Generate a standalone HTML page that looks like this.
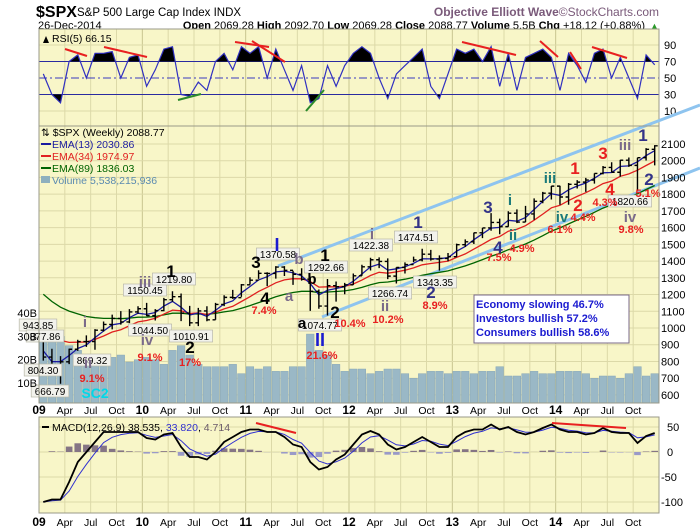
<!DOCTYPE html>
<html><head><meta charset="utf-8"><style>
html,body{margin:0;padding:0;background:#fff;}
svg{display:block;font-family:"Liberation Sans",sans-serif;}
</style></head><body>
<svg id="c" width="700" height="530" viewBox="0 0 700 530">
<g id="hdr">
<text x="36" y="17" font-size="16" font-weight="bold" fill="#000">$SPX</text>
<text x="77" y="16" font-size="11.5" fill="#000">S&amp;P 500 Large Cap Index INDX</text>
<text x="659" y="16" font-size="12" font-weight="bold" fill="#7a5a7a" text-anchor="end">Objective Elliott Wave<tspan font-weight="normal">©StockCharts.com</tspan></text>
<text x="38" y="29" font-size="11" fill="#000">26-Dec-2014</text>
<text x="645" y="29" font-size="11" fill="#000" text-anchor="end"><tspan font-weight="bold">Open</tspan> 2069.28 <tspan font-weight="bold">High</tspan> 2092.70 <tspan font-weight="bold">Low</tspan> 2069.28 <tspan font-weight="bold">Close</tspan> 2088.77 <tspan font-weight="bold">Volume</tspan> 5.5B <tspan font-weight="bold">Chg</tspan> +18.12 (+0.88%)</text>
<text x="650" y="29" font-size="9" fill="#2a9a2a">▲</text>
</g>
<g id="panels"></g>
</svg>
<script>
// ---------- data ----------
const years = ['09','10','11','12','13','14'];
const closes = [826,735,798,873,919,919,987,1021,1057,1036,1096,1115,
1074,1104,1169,1187,1089,1031,1102,1049,1141,1183,1181,1258,
1286,1327,1326,1364,1345,1321,1292,1219,1131,1253,1247,1258,
1312,1366,1408,1398,1310,1362,1379,1407,1441,1412,1416,1426,
1498,1515,1569,1598,1631,1606,1686,1633,1682,1757,1806,1848,
1783,1859,1872,1884,1924,1960,1931,2003,1972,2018,2068,2089];
const highs = [943,876,832,877,930,956,993,1039,1080,1101,1113,1130,
1150,1113,1180,1220,1206,1132,1120,1130,1150,1196,1228,1263,
1303,1345,1333,1370,1370,1342,1357,1307,1230,1293,1278,1270,
1326,1378,1420,1422,1416,1363,1392,1427,1474,1467,1434,1448,
1504,1530,1570,1598,1687,1654,1698,1709,1730,1775,1814,1849,
1850,1867,1884,1897,1924,1968,1991,2005,2019,2018,2075,2093];
const lows = [805,735,667,784,863,887,870,979,992,1020,1029,1086,
1071,1045,1100,1157,1041,1011,1011,1040,1049,1131,1174,1186,
1259,1294,1250,1295,1311,1258,1283,1102,1115,1075,1158,1202,
1258,1312,1344,1358,1292,1266,1326,1394,1398,1403,1343,1399,
1426,1485,1502,1537,1581,1560,1605,1627,1633,1646,1746,1768,
1737,1737,1834,1814,1863,1918,1930,1905,1963,1820,2001,1972];
const volumes = [28,32,30,26,24,22,19,20,21,22,19,20,
21,20,18,24,26,22,18,17,17,17,18,14,
17,16,17,15,15,17,17,31,24,22,18,15,
16,16,14,15,16,16,14,12,14,15,15,14,
15,15,14,15,15,17,13,13,14,15,14,14,
15,15,15,14,12,13,13,12,14,17,13,14];
const emaSeeds = [900,1090,1240];
const rsiValues = [55,30,20,70,78,50,80,80,82,50,75,78,
40,60,85,88,30,28,45,35,70,80,60,88,
80,88,50,85,60,35,65,20,25,65,40,65,
80,88,80,50,25,55,65,75,85,40,25,55,
85,80,85,70,88,40,80,35,75,80,85,75,
35,80,65,45,80,85,50,75,50,25,78,66];
const macdValues = [-100,-95,-95,-60,-20,0,20,40,40,40,40,40,
28,25,35,38,10,-10,-10,-15,0,20,30,40,
45,45,40,40,30,15,10,-20,-35,-30,-15,-5,
15,35,42,35,15,5,10,20,30,20,10,10,
30,40,45,45,55,45,50,40,35,40,48,55,
45,40,40,35,38,48,40,38,38,18,32,38];
const priceTicks = [600,700,800,900,1000,1100,1200,1300,1400,1500,1600,1700,1800,1900,2000,2100];
const volTicks = [10,20,30,40];
const rsiTicks = [10,30,50,70,90];
const macdTicks = [50,0,-50,-100];

// ---------- scales ----------
const L=39, R=659, MW=(R-L)/72;
const x = i => L + (i+0.5)*MW;
const xm = m => L + m*MW;
const yP = p => 328 - (p-1000)*0.1673;
const yV = v => 406.3 - v*2.33;
const yR = v => 111 - (v-10)*0.825;
const yM = v => 452 - v*0.5;
const NS='http://www.w3.org/2000/svg';
const root=document.getElementById('panels');
function mk(tag,attrs,parent){const e=document.createElementNS(NS,tag);for(const k in attrs)e.setAttribute(k,attrs[k]);(parent||root).appendChild(e);return e;}
function txt(s,attrs,parent){const e=mk('text',attrs,parent);e.textContent=s;return e;}
function ema(arr,alpha,seed){const o=[];let v=seed;for(const a of arr){v=v+alpha*(a-v);o.push(v);}return o;}
function pts(arr,fy){return arr.map((v,i)=>x(i).toFixed(1)+','+fy(v).toFixed(1)).join(' ');}

const BG='#f8f6c8', GRID='#dcd9a8', BORDER='#9a9a88';
function panel(name,y0,y1){
  const g=mk('g',{});
  
  
  mk('rect',{x:L,y:y0,width:R-L,height:y1-y0,fill:BG},g);
  for(let m=0;m<=72;m+=3){mk('line',{x1:xm(m),x2:xm(m),y1:y0,y2:y1,stroke:m%12==0?'#c8c590':GRID,'stroke-width':1},g);}
  return g;
}
function frame(g,y0,y1){mk('rect',{x:L,y:y0,width:R-L,height:y1-y0,fill:'none',stroke:BORDER,'stroke-width':1},g);}

// ---------- RSI panel ----------
const gR=panel('rsi-panel',29,126);
rsiTicks.forEach(t=>{
  mk('line',{x1:L,x2:R,y1:yR(t),y2:yR(t),stroke:(t==30||t==70)?'#2a2aa0':(t==50?'#3a3ac0':GRID),'stroke-width':1,'stroke-dasharray':t==50?'8,3,2,3':'none'},gR);
  const tl=txt(String(t),{x:664,y:yR(t)+4,'font-size':11,fill:'#000'});
  
  
});
const rp=pts(rsiValues,yR);
mk('clipPath',{id:'cpHi'}).appendChild(mk('rect',{x:L,y:0,width:R-L,height:yR(70)}));
mk('clipPath',{id:'cpLo'}).appendChild(mk('rect',{x:L,y:yR(30),width:R-L,height:50}));
const fhi=mk('polygon',{points:rp+' '+x(71)+','+yR(70)+' '+x(0)+','+yR(70),fill:'#000','clip-path':'url(#cpHi)'},gR);


const flo=mk('polygon',{points:rp+' '+x(71)+','+yR(30)+' '+x(0)+','+yR(30),fill:'#000','clip-path':'url(#cpLo)'},gR);


const rl=mk('polyline',{points:rp,fill:'none',stroke:'#3030c0','stroke-width':1.2},gR);


[[65,49,87,56,'r'],[104,47,147,57,'r'],[235,42,269,47,'r'],[252,41,285,62,'r'],[462,42,516,55,'r'],[540,41,558,57,'r'],[570,52,581,69,'r'],[592,47,627,58,'r'],[178,100,201,94,'g'],[306,111,324,90,'g']].forEach(a=>{
  const d=mk('line',{x1:a[0],y1:a[1],x2:a[2],y2:a[3],stroke:a[4]=='r'?'#e82020':'#2a8a2a','stroke-width':2},gR);
  
  
});
frame(gR,29,126);
const rsiLab=mk('g',{},gR);


mk('polygon',{points:'43,43 46,36 49,43',fill:'#000'},rsiLab);
txt('RSI(5) 66.15',{x:52,y:42,'font-size':10.5,fill:'#000'},rsiLab);

// ---------- main price panel ----------
const gP=panel('price-panel',126,403);
priceTicks.forEach(t=>{
  mk('line',{x1:L,x2:R,y1:yP(t),y2:yP(t),stroke:GRID,'stroke-width':1},gP);
  const tl=txt(String(t),{x:661,y:yP(t)+4,'font-size':11,fill:'#000'});
  
  
});
volTicks.forEach(t=>{
  const tl=txt(t+'B',{x:37,y:yV(t)+4,'font-size':11,fill:'#000','text-anchor':'end'});
  
  
});
const gVol=mk('g',{},gP);


volumes.forEach((v,i)=>{
  const b=mk('rect',{x:x(i)-MW/2+0.5,y:yV(v),width:MW-1,height:Math.max(0,403-yV(v)),fill:'#9ab8c6',stroke:'#86a6b6','stroke-width':0.5},gVol);
  
  
});
// channel lines
[[278,266,700,105],[322,317,700,168]].forEach(a=>{
  const c=mk('line',{x1:a[0],y1:a[1],x2:a[2],y2:a[3],stroke:'#8ec4ef','stroke-width':3},gP);
  
  
});
const e13=ema(closes,0.5,emaSeeds[0]), e34=ema(closes,0.226,emaSeeds[1]), e89=ema(closes,0.093,emaSeeds[2]);
[[e89,'#006400','ema-89-line'],[e34,'#e02020','ema-34-line'],[e13,'#1a1aa0','ema-13-line']].forEach(a=>{
  const l=mk('polyline',{points:pts(a[0],yP),fill:'none',stroke:a[1],'stroke-width':1.3},gP);
  
  
});
const gBars=mk('g',{},gP);


closes.forEach((c,i)=>{
  const o=i?closes[i-1]:highs[0]-20, cx=x(i);
  const b=mk('path',{d:`M${cx},${yP(highs[i])}V${yP(lows[i])}M${cx-3},${yP(o)}H${cx}M${cx},${yP(c)}H${cx+3}`,stroke:'#000','stroke-width':1.4,fill:'none'},gBars);
  
  
});
// legend
const lg=mk('g',{},gP);


txt('⇅ $SPX (Weekly) 2088.77',{x:41,y:136,'font-size':10.5,fill:'#000'},lg);
[['EMA(13) 2030.86','#1a1aa0',148],['EMA(34) 1974.97','#e02020',160],['EMA(89) 1836.03','#006400',172]].forEach(a=>{
  mk('line',{x1:41,x2:51,y1:a[2]-4,y2:a[2]-4,stroke:a[1],'stroke-width':2},lg);
  txt(a[0],{x:52,y:a[2],'font-size':10.5,fill:a[1]},lg);
});
mk('rect',{x:41,y:176,width:9,height:7,fill:'#8eb0be'},lg);
txt('Volume 5,538,215,936',{x:52,y:184,'font-size':10.5,fill:'#5a8ab0'},lg);
// price value labels
[['943.85',38,326],['877.86',45,337],['804.30',43,371],['666.79',50,392],['869.32',92,361],['1044.50',150,331],['1150.45',145,291],['1219.80',174,280],['1010.91',191,337],['1370.58',278,255],['1292.66',326,268],['1074.77',320,326],['1422.38',371,246],['1474.51',416,238],['1266.74',390,294],['1343.35',435,283],['1820.66',630,202]].forEach(a=>{
  const w=a[0].length*5.6+4;
  const g=mk('g',{},gP);
  
  
  mk('rect',{x:a[1]-w/2,y:a[2]-7,width:w,height:12,fill:'#f2f2ec',stroke:'#b8b8a8','stroke-width':0.7},g);
  txt(a[0],{x:a[1],y:a[2]+3,'font-size':10,fill:'#000','text-anchor':'middle'},g);
});
// wave labels
const P='#7a6a8a',K='#000',Rd='#e82020',NV='#333388',BL='#1a1ad0',TL='#1a7a7a';
[['i',85,327,P,15],['ii',88,368,P,15],['9.1%',92,382,Rd,11],['SC2',95,398,'#00d8e8',14],
['iii',145,287,P,15],['iv',147,345,P,15],['9.1%',150,361,Rd,11],['1',171,277,K,17],['2',190,353,K,17],['17%',190,366,Rd,11],
['3',256,268,K,17],['I',277,251,BL,18],['b',299,264,P,15],['1',325,261,K,17],['b',312,284,K,15],['4',265,304,K,17],['7.4%',264,314,Rd,11],['a',289,301,P,15],['a',302,328,K,15],['2',335,318,K,17],['II',320,346,BL,18],['21.6%',322,359,Rd,11],['10.4%',350,327,Rd,11],
['i',372,239,P,15],['ii',385,311,P,15],['10.2%',388,323,Rd,11],['1',418,228,NV,17],['2',431,298,NV,17],['8.9%',435,309,Rd,11],
['3',488,213,NV,17],['4',498,253,NV,17],['7.5%',499,261,Rd,11],['i',510,205,TL,15],['ii',513,240,TL,15],['4.9%',522,252,Rd,11],
['iii',550,183,TL,15],['iv',562,222,TL,15],['6.1%',560,233,Rd,11],['1',575,174,Rd,17],['2',578,211,Rd,17],['4.4%',583,221,Rd,11],
['3',603,159,Rd,17],['4',610,195,Rd,17],['4.3%',605,206,Rd,11],['iii',625,150,P,15],['iv',630,222,P,15],['9.8%',631,233,Rd,11],
['1',643,141,NV,17],['2',649,185,NV,17],['5.1%',648,197,Rd,11]].forEach(a=>{
  const t=txt(a[0],{x:a[1],y:a[2],'font-size':a[4],'font-weight':'bold',fill:a[3],'text-anchor':'middle'},gP);
  
  
});
// sentiment box
const sb=mk('g',{},gP);


mk('rect',{x:474,y:295,width:155,height:48,fill:'#fff',stroke:'#7a6a8a','stroke-width':1},sb);
['Economy slowing 46.7%','Investors bullish 57.2%','Consumers bullish 58.6%'].forEach((s,i)=>{
  txt(s,{x:476,y:308+i*14,'font-size':11,'font-weight':'bold',fill:'#1a1ad0'},sb);
});
frame(gP,126,403);

// ---------- date axes ----------
function dateAxis(y,name){
  const g=mk('g',{});
  
  
  for(let m=0;m<72;m+=3){
    const q=m%12;
    const s=q==0?years[m/12]:['','','','Apr','','','Jul','','','Oct'][q];
    txt(s,{x:xm(m),y:y,'font-size':q==0?12:10.5,'font-weight':q==0?'bold':'normal',fill:'#000','text-anchor':'middle'},g);
  }
}
dateAxis(414,'date-axis-top');

// ---------- MACD panel ----------
const gM=panel('macd-panel',417,513);
macdTicks.forEach(t=>{
  mk('line',{x1:L,x2:R,y1:yM(t),y2:yM(t),stroke:GRID,'stroke-width':1},gM);
  const tl=txt(String(t),{x:t<0?661:667,y:yM(t)+4,'font-size':11,fill:'#000'});
  
  
});
const sig=ema(macdValues,0.5,macdValues[0]);
macdValues.forEach((v,i)=>{
  const h=(v-sig[i])*0.6;
  const b=mk('rect',{x:x(i)-MW/2+1,y:Math.min(yM(h),yM(0)),width:MW-2,height:Math.abs(yM(h)-yM(0)),fill:h>=0?'#857585':'#9a9ac8'},gM);
  
  
});
const sl=mk('polyline',{points:pts(sig,yM),fill:'none',stroke:'#3030d0','stroke-width':1},gM);


const ml=mk('polyline',{points:pts(macdValues,yM),fill:'none',stroke:'#000','stroke-width':1.8},gM);


[[256,423,296,433],[552,423,626,428]].forEach(a=>{
  const d=mk('line',{x1:a[0],y1:a[1],x2:a[2],y2:a[3],stroke:'#e82020','stroke-width':2},gM);
  
  
});
const ml2=mk('g',{},gM);


mk('line',{x1:42,x2:49,y1:427,y2:427,stroke:'#000','stroke-width':2},ml2);
const mt=txt('',{x:52,y:431,'font-size':10.5,fill:'#000'},ml2);
mt.innerHTML='MACD(12,26,9) 38.535, <tspan fill="#3030d0">33.820</tspan>, <tspan fill="#6a5a6a">4.714</tspan>';
frame(gM,417,513);
dateAxis(526,'date-axis-bottom');
</script>
</body></html>
